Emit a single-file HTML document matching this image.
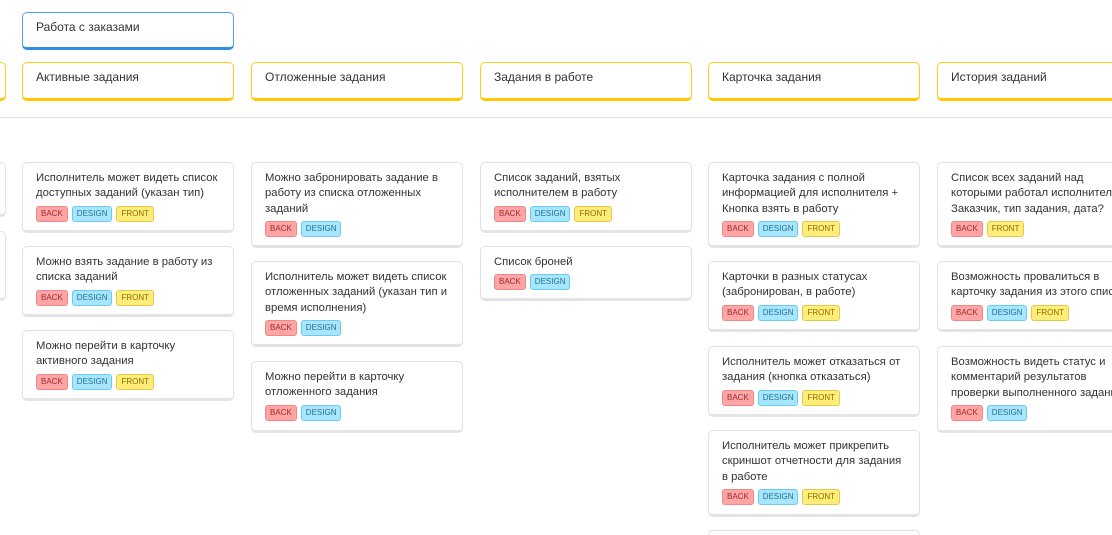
<!DOCTYPE html>
<html><head><meta charset="utf-8"><style>
html,body{margin:0;width:1112px;height:535px;overflow:hidden}
body{background:#fff;font-family:"Liberation Sans","DejaVu Sans",sans-serif;position:relative}
.b{position:absolute;box-sizing:border-box;background:#fff;border-radius:5px;white-space:nowrap;overflow:hidden}
.h{border:1.5px solid #ffcc1a;border-bottom:3px solid #ffc800;height:39px;top:62px;width:212px;font-size:12px;color:#333;padding:7px 0 0 13px}
.top{border:1.5px solid #4aa3ee;border-bottom:3px solid #2f8fe6;height:38px;top:12px;left:22px;width:212px;font-size:12px;color:#333;padding:7px 0 0 13px}
.c{border:1px solid #e2e2e2;border-bottom:3px solid #e4e4e4;width:212px;padding:8px 0 0 13px;font-size:11.3px;line-height:15.3px;color:#333}
.t{display:flex;gap:4px;margin-top:4px}
.t span{font-size:8px;height:16px;line-height:14px;padding:0 4px;border-radius:3px;box-sizing:border-box}
.bk{background:#ffa5a5;border:1px solid #f08787;color:#9b2b2b}
.ds{background:#a6e6ff;border:1px solid #6dcaf0;color:#24708f}
.fr{background:#ffed7a;border:1px solid #e6c94a;color:#8a6d00}
.line{position:absolute;left:0;top:117px;width:1112px;height:1px;background:#e2e2e2}
</style></head><body>
<div class="b top">Работа с заказами</div>
<div class="b h" style="left:-206px"></div>
<div class="b h" style="left:22px">Активные задания</div>
<div class="b h" style="left:251px">Отложенные задания</div>
<div class="b h" style="left:480px">Задания в работе</div>
<div class="b h" style="left:708px">Карточка задания</div>
<div class="b h" style="left:937px">История заданий</div>
<div class="line"></div>

<div class="b c" style="left:-206px;top:162px;height:55px"></div>
<div class="b c" style="left:-206px;top:231px;height:70px"></div>

<div class="b c" style="left:22px;top:162px;height:71px">Исполнитель может видеть список<br>доступных заданий (указан тип)<div class="t"><span class="bk">BACK</span><span class="ds">DESIGN</span><span class="fr">FRONT</span></div></div>
<div class="b c" style="left:22px;top:246px;height:71px">Можно взять задание в работу из<br>списка заданий<div class="t"><span class="bk">BACK</span><span class="ds">DESIGN</span><span class="fr">FRONT</span></div></div>
<div class="b c" style="left:22px;top:330px;height:71px">Можно перейти в карточку<br>активного задания<div class="t"><span class="bk">BACK</span><span class="ds">DESIGN</span><span class="fr">FRONT</span></div></div>

<div class="b c" style="left:251px;top:162px;height:86px">Можно забронировать задание в<br>работу из списка отложенных<br>заданий<div class="t"><span class="bk">BACK</span><span class="ds">DESIGN</span></div></div>
<div class="b c" style="left:251px;top:261px;height:86px">Исполнитель может видеть список<br>отложенных заданий (указан тип и<br>время исполнения)<div class="t"><span class="bk">BACK</span><span class="ds">DESIGN</span></div></div>
<div class="b c" style="left:251px;top:361px;height:72px">Можно перейти в карточку<br>отложенного задания<div class="t"><span class="bk">BACK</span><span class="ds">DESIGN</span></div></div>

<div class="b c" style="left:480px;top:162px;height:71px">Список заданий, взятых<br>исполнителем в работу<div class="t"><span class="bk">BACK</span><span class="ds">DESIGN</span><span class="fr">FRONT</span></div></div>
<div class="b c" style="left:480px;top:246px;height:55px">Список броней<div class="t"><span class="bk">BACK</span><span class="ds">DESIGN</span></div></div>

<div class="b c" style="left:708px;top:162px;height:86px">Карточка задания с полной<br>информацией для исполнителя +<br>Кнопка взять в работу<div class="t"><span class="bk">BACK</span><span class="ds">DESIGN</span><span class="fr">FRONT</span></div></div>
<div class="b c" style="left:708px;top:261px;height:71px">Карточки в разных статусах<br>(забронирован, в работе)<div class="t"><span class="bk">BACK</span><span class="ds">DESIGN</span><span class="fr">FRONT</span></div></div>
<div class="b c" style="left:708px;top:346px;height:71px">Исполнитель может отказаться от<br>задания (кнопка отказаться)<div class="t"><span class="bk">BACK</span><span class="ds">DESIGN</span><span class="fr">FRONT</span></div></div>
<div class="b c" style="left:708px;top:430px;height:87px">Исполнитель может прикрепить<br>скриншот отчетности для задания<br>в работе<div class="t"><span class="bk">BACK</span><span class="ds">DESIGN</span><span class="fr">FRONT</span></div></div>
<div class="b c" style="left:708px;top:530px;height:20px"></div>

<div class="b c" style="left:937px;top:162px;height:86px;width:230px">Список всех заданий над<br>которыми работал исполнитель<br>Заказчик, тип задания, дата?<div class="t"><span class="bk">BACK</span><span class="fr">FRONT</span></div></div>
<div class="b c" style="left:937px;top:261px;height:71px;width:230px">Возможность провалиться в<br>карточку задания из этого списка<div class="t"><span class="bk">BACK</span><span class="ds">DESIGN</span><span class="fr">FRONT</span></div></div>
<div class="b c" style="left:937px;top:346px;height:87px;width:230px">Возможность видеть статус и<br>комментарий результатов<br>проверки выполненного задания<div class="t"><span class="bk">BACK</span><span class="ds">DESIGN</span></div></div>
</body></html>
